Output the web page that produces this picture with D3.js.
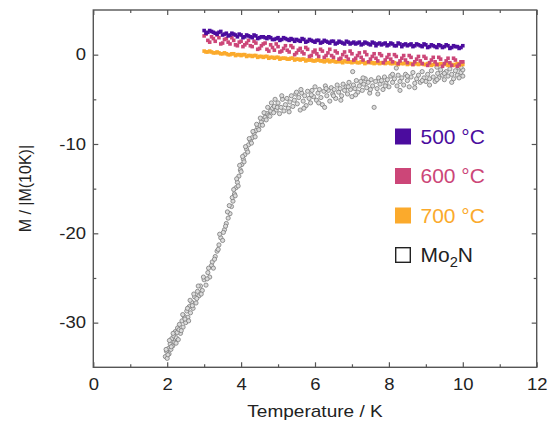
<!DOCTYPE html>
<meta charset="utf-8">
<style>

body {
  margin: 0;
  background: #fff;
}

svg text {
  font-family: "Liberation Sans", Arial, sans-serif;
  fill: #222;
}

.axis line {
  stroke: #555;
  stroke-width: 1.2px;
}

</style>
<body>
<script src="https://cdn.jsdelivr.net/npm/d3@7"></script>
<script>

// temperatures (K) of the first sweep of the annealed samples
var temps = [3.0, 3.1, 3.2, 3.3, 3.4, 3.5, 3.6, 3.7, 3.8, 3.9,
  4.0, 4.1, 4.2, 4.3, 4.4, 4.5, 4.6, 4.7, 4.8, 4.9,
  5.0, 5.1, 5.2, 5.3, 5.4, 5.5, 5.6, 5.7, 5.8, 5.9,
  6.0, 6.1, 6.2, 6.3, 6.4, 6.5, 6.6, 6.7, 6.8, 6.9,
  7.0, 7.1, 7.2, 7.3, 7.4, 7.5, 7.6, 7.7, 7.8, 7.9,
  8.0, 8.1, 8.2, 8.3, 8.4, 8.5, 8.6, 8.7, 8.8, 8.9,
  9.0, 9.1, 9.2, 9.3, 9.4, 9.5, 9.6, 9.7, 9.8, 9.9, 10.0];

// temperatures of the second sweep
var tempsB = [3.05, 3.15, 3.25, 3.35, 3.45, 3.55, 3.65, 3.75, 3.85, 3.95,
  4.05, 4.15, 4.25, 4.35, 4.45, 4.55, 4.65, 4.75, 4.85, 4.95,
  5.05, 5.15, 5.25, 5.35, 5.45, 5.55, 5.65, 5.75, 5.85, 5.95,
  6.05, 6.15, 6.25, 6.35, 6.45, 6.55, 6.65, 6.75, 6.85, 6.95,
  7.05, 7.15, 7.25, 7.35, 7.45, 7.55, 7.65, 7.75, 7.85, 7.95,
  8.05, 8.15, 8.25, 8.35, 8.45, 8.55, 8.65, 8.75, 8.85, 8.95,
  9.05, 9.15, 9.25, 9.35, 9.45, 9.55, 9.65, 9.75, 9.85, 9.95];

var m500 = [2.7, 2.5, 2.6, 2.4, 2.5, 2.2, 2.4, 2.2, 2.3, 2.0,
  2.2, 2.0, 2.1, 1.9, 2.1, 1.9, 2.0, 1.8, 1.9, 1.7,
  1.9, 1.7, 1.8, 1.6, 1.7, 1.7, 1.5, 1.7, 1.5, 1.6,
  1.4, 1.6, 1.4, 1.5, 1.3, 1.5, 1.3, 1.4, 1.2, 1.4,
  1.3, 1.2, 1.4, 1.2, 1.3, 1.1, 1.3, 1.2, 1.1, 1.3,
  1.1, 1.2, 1.0, 1.2, 1.1, 1.0, 1.2, 1.0, 1.1, 0.9,
  1.1, 0.9, 1.0, 0.8, 1.0, 0.9, 1.0, 0.8, 0.9, 0.7, 1.0];

var m500b = [2.4, 2.7, 2.5, 2.3, 2.6, 2.3, 2.1, 2.4, 2.2, 2.3,
  1.9, 2.2, 2.0, 2.2, 1.8, 2.0, 1.9, 2.0, 1.7, 1.8,
  1.6, 1.9, 1.7, 1.8, 1.5, 1.6, 1.8, 1.4, 1.7, 1.5,
  1.6, 1.3, 1.6, 1.4, 1.5, 1.2, 1.5, 1.3, 1.5, 1.2,
  1.4, 1.3, 1.1, 1.4, 1.2, 1.4, 1.0, 1.3, 1.2, 1.0,
  1.3, 1.0, 1.3, 0.9, 1.2, 1.1, 0.9, 1.2, 1.0, 1.2,
  0.8, 1.1, 0.9, 1.1, 0.8, 1.1, 0.7, 1.0, 0.9, 0.8];

var m600 = [2.1, 1.6, 2.0, 1.5, 1.9, 1.3, 1.8, 1.2, 1.6, 1.0,
  1.5, 1.1, 1.6, 0.9, 1.3, 0.7, 1.2, 0.6, 1.1, 0.5,
  0.9, 0.4, 1.0, 0.3, 0.8, 0.2, 0.7, 0.1, 0.6, -0.1,
  0.5, -0.2, 0.4, -0.1, 0.6, -0.3, 0.2, -0.4, 0.3, -0.5,
  0.1, -0.4, 0.2, -0.6, 0.0, -0.5, 0.1, -0.7, -0.1, -0.6,
  0.0, -0.8, -0.2, -0.7, -0.1, -0.9, -0.3, -0.8, -0.2, -1.0,
  -0.4, -0.9, -0.3, -1.1, -0.5, -1.0, -0.4, -1.2, -0.6, -1.1, -0.8];

var m600b = [2.3, 1.4, 1.8, 2.2, 1.2, 1.7, 1.4, 1.9, 1.1, 1.4,
  0.9, 1.3, 1.0, 1.5, 0.6, 1.0, 1.3, 0.4, 0.8, 1.2,
  0.3, 0.7, 0.5, 1.0, 0.0, 0.5, 0.3, 0.8, -0.2, 0.3,
  0.1, 0.6, -0.3, 0.2, -0.1, 0.4, -0.5, 0.0, -0.2, 0.4,
  -0.6, -0.1, -0.3, 0.3, -0.8, -0.2, -0.4, 0.1, -0.9, -0.3,
  -0.5, 0.0, -1.0, -0.4, -0.6, -0.1, -1.1, -0.5, -0.7, -0.2,
  -1.2, -0.6, -0.8, -0.3, -1.3, -0.7, -0.9, -0.4, -1.3, -0.8];

var m700 = [0.4, 0.3, 0.3, 0.2, 0.2, 0.1, 0.1, 0.0, 0.1, 0.0,
  -0.1, 0.0, -0.1, -0.2, -0.1, -0.2, -0.3, -0.2, -0.3, -0.4,
  -0.3, -0.4, -0.4, -0.5, -0.4, -0.5, -0.6, -0.5, -0.6, -0.6,
  -0.7, -0.6, -0.7, -0.7, -0.8, -0.7, -0.8, -0.8, -0.7, -0.8,
  -0.9, -0.8, -0.9, -0.8, -0.9, -0.9, -1.0, -0.9, -0.9, -1.0,
  -0.9, -1.0, -1.0, -0.9, -1.0, -1.1, -1.0, -1.0, -1.1, -1.0,
  -1.1, -1.0, -1.1, -1.1, -1.0, -1.1, -1.2, -1.1, -1.1, -1.2, -1.1];

var m700b = [0.3, 0.4, 0.2, 0.3, 0.1, 0.2, 0.0, 0.1, -0.1, 0.0,
  0.0, -0.2, -0.1, -0.1, -0.3, -0.2, -0.2, -0.4, -0.3, -0.3,
  -0.5, -0.4, -0.5, -0.4, -0.6, -0.5, -0.5, -0.7, -0.6, -0.7,
  -0.6, -0.7, -0.8, -0.6, -0.7, -0.8, -0.7, -0.9, -0.8, -0.8,
  -0.8, -0.9, -0.8, -1.0, -0.8, -0.9, -0.9, -1.0, -0.9, -0.9,
  -1.0, -0.9, -1.1, -1.0, -0.9, -1.0, -1.1, -1.0, -1.0, -1.1,
  -1.0, -1.2, -1.0, -1.1, -1.1, -1.0, -1.1, -1.2, -1.0, -1.1];

// Mo2N reference: [T, M/|M(10K)|]
var mo2n = [
  [1.95, -33.8], [1.98, -33.2], [2.0, -34.0], [2.03, -32.9], [2.05, -33.5], [2.08, -32.4],
  [2.1, -33.0], [2.12, -31.8], [2.15, -32.6], [2.18, -31.5], [2.2, -32.2], [2.22, -31.0],
  [2.25, -31.7], [2.28, -30.6], [2.3, -31.9], [2.33, -30.2], [2.36, -31.2], [2.4, -29.8],
  [2.43, -30.5], [2.46, -29.3], [2.5, -30.0], [2.53, -28.7], [2.56, -29.4], [2.6, -28.2],
  [2.63, -28.9], [2.66, -27.7], [2.7, -28.4], [2.74, -27.1], [2.78, -27.8], [2.82, -26.5],
  [2.86, -27.0], [2.9, -25.9], [2.95, -26.4], [3.0, -25.2], [3.05, -25.8], [3.1, -24.4],
  [3.15, -24.9], [3.2, -23.6], [3.25, -23.9], [3.3, -22.6], [3.35, -22.0], [3.4, -21.3],
  [3.45, -20.5], [3.5, -20.8], [3.55, -19.6], [3.6, -18.9], [3.65, -18.3], [3.7, -17.8],
  [3.74, -17.0], [3.78, -16.4], [3.82, -15.6], [3.86, -14.9], [3.9, -14.3], [3.94, -13.6],
  [3.98, -12.9], [4.02, -12.3], [4.06, -11.7], [4.1, -11.2], [4.15, -10.6], [4.2, -10.1],
  [4.25, -9.6], [4.3, -9.3], [4.35, -8.8], [4.4, -8.5], [4.45, -8.1], [4.5, -7.9],
  [4.55, -7.5], [4.6, -7.2], [4.65, -7.0], [4.7, -6.6], [4.75, -6.8], [4.8, -6.3],
  [4.85, -6.0], [4.9, -5.8], [4.95, -6.2],
  [1.97, -33.0], [2.02, -33.6], [2.06, -32.0], [2.11, -32.7], [2.16, -31.2], [2.24, -32.3],
  [2.27, -31.1], [2.32, -30.8], [2.38, -30.9], [2.42, -29.1], [2.48, -29.6], [2.55, -28.4],
  [2.58, -29.8], [2.62, -27.5], [2.68, -28.1], [2.72, -26.8], [2.8, -27.3], [2.84, -25.9],
  [2.92, -26.8], [2.98, -24.9], [3.08, -25.1], [3.12, -23.9], [3.22, -23.2], [3.28, -22.9],
  [3.38, -21.8], [3.42, -20.1], [3.52, -19.9], [3.58, -19.2], [3.63, -17.6], [3.68, -16.9],
  [3.76, -16.0], [3.8, -15.1], [3.84, -15.8], [3.88, -13.9], [3.92, -14.7], [3.96, -12.4],
  [4.0, -13.1], [4.04, -11.4], [4.08, -12.0], [4.12, -10.3], [4.18, -10.9], [4.22, -9.4],
  [4.28, -9.9], [4.32, -8.6], [4.38, -9.2], [4.42, -7.8], [4.48, -8.4], [4.52, -7.1],
  [4.58, -7.9], [4.62, -6.5], [4.68, -7.3], [4.72, -5.9], [4.78, -6.9], [4.82, -5.4],
  [4.88, -6.5], [4.92, -5.0], [4.98, -5.9],
  [5.0, -5.4], [5.04, -6.6], [5.08, -5.9], [5.12, -5.0], [5.16, -6.3], [5.2, -5.6],
  [5.24, -4.9], [5.28, -6.0], [5.32, -5.3], [5.36, -4.6], [5.4, -5.8], [5.44, -5.1],
  [5.48, -4.4], [5.52, -5.5], [5.56, -4.8], [5.6, -6.2], [5.64, -4.3], [5.68, -5.2],
  [5.72, -4.6], [5.76, -5.7], [5.8, -4.1], [5.84, -4.9], [5.88, -5.4], [5.92, -4.0],
  [5.96, -4.7], [6.0, -3.6], [6.04, -5.1], [6.08, -4.3], [6.12, -3.9], [6.16, -4.8],
  [6.2, -5.6], [6.24, -4.1], [6.28, -3.5], [6.32, -4.6], [6.36, -4.0], [6.4, -5.2],
  [6.44, -3.7], [6.48, -4.4], [6.52, -3.9], [6.56, -4.9], [6.6, -3.4], [6.64, -4.2],
  [6.68, -3.8], [6.72, -4.6], [6.76, -3.3], [6.8, -4.0], [6.84, -3.6], [6.88, -4.4],
  [6.92, -3.1], [6.96, -3.9], [7.0, -4.7], [7.02, -1.9], [7.04, -3.4], [7.08, -3.8],
  [7.12, -2.9], [7.16, -4.2], [7.2, -3.5], [7.24, -3.0], [7.28, -4.0], [7.32, -3.3],
  [7.36, -2.7], [7.4, -3.7], [7.44, -3.1], [7.48, -4.3], [7.52, -2.8], [7.56, -3.5],
  [7.6, -5.9], [7.64, -3.0], [7.68, -3.8], [7.72, -2.6], [7.76, -3.3], [7.8, -2.9],
  [7.84, -3.9], [7.88, -2.5], [7.92, -3.2], [7.96, -2.8], [8.0, -3.6], [8.05, -2.4],
  [8.1, -3.1], [8.15, -2.7], [8.2, -1.5], [8.22, -3.5], [8.25, -2.3], [8.3, -3.0],
  [8.35, -2.6], [8.4, -3.4], [8.45, -2.2], [8.5, -2.9], [8.55, -3.6], [8.6, -2.5],
  [8.65, -2.0], [8.7, -3.2], [8.75, -2.7], [8.8, -2.3], [8.85, -3.1], [8.9, -1.9],
  [8.95, -2.6], [9.0, -3.0], [9.05, -2.2], [9.1, -2.7], [9.15, -1.8], [9.2, -2.5],
  [9.25, -3.0], [9.3, -1.4], [9.32, -2.1], [9.35, -2.6], [9.4, -1.7], [9.45, -2.3],
  [9.5, -2.8], [9.55, -1.9], [9.6, -2.4], [9.65, -1.6], [9.7, -2.2], [9.75, -2.7],
  [9.8, -1.8], [9.85, -2.3], [9.9, -1.5], [9.95, -2.0], [10.0, -2.4], [10.0, -1.7],
  [5.1, -4.6], [5.3, -6.4], [5.5, -4.2], [5.7, -6.0], [5.9, -4.5], [6.1, -5.4],
  [6.3, -3.8], [6.5, -4.6], [6.7, -5.1], [6.9, -3.6], [7.1, -4.5], [7.3, -2.6],
  [7.5, -3.9], [7.7, -4.4], [7.9, -3.5], [8.1, -2.2], [8.3, -4.0], [8.5, -2.4],
  [8.7, -3.7], [8.9, -2.9], [9.1, -3.4], [9.3, -2.8], [9.5, -2.1], [9.7, -3.1],
  [9.9, -2.6], [9.95, -1.4], [6.26, -5.9], [5.62, -3.9]
];

var legendLabels = ["500 °C", "600 °C", "700 °C"];
var colors = ["#4b0c9e", "#cc4678", "#fbaa2c"];

var xMajor = [0, 2, 4, 6, 8, 10, 12];
var xMinor = [1, 3, 5, 7, 9, 11];
var yMajor = [0, -10, -20, -30];
var yMinor = [-5, -15, -25];

var width = 549;
var height = 431;
var margin = {top: 10, right: 12.3, bottom: 63.7, left: 93.3};
var stretch = "scale(1.12,1)";

var xScale = d3.scaleLinear()
    .domain([0, 12])
    .range([margin.left, width - margin.right]);

var yScale = d3.scaleLinear()
    .domain([-35, 5])
    .range([height - margin.bottom, margin.top]);

var svg = d3.select("body").append("svg")
    .attr("width", width)
    .attr("height", height);

var sweepA = [m500, m600, m700];
var sweepB = [m500b, m600b, m700b];

var series = legendLabels.map((name, i) => ({
  name: name,
  color: colors[i],
  values: temps.map((t, j) => ({t: t, m: sweepA[i][j]}))
    .concat(tempsB.map((t, j) => ({t: t, m: sweepB[i][j]})))
}));

var plot = svg.append("g");

plot.selectAll("circle.mo2n")
  .data(mo2n)
  .enter()
  .append("circle")
    .attr("class", "mo2n")
    .attr("cx", d => xScale(d[0]))
    .attr("cy", d => yScale(d[1]))
    .attr("r", 2.1)
    .attr("fill", "#dcdcdc")
    .attr("stroke", "#7a7a7a")
    .attr("stroke-width", 0.8);

// 700 first so 600 and 500 sit above it
series.slice().reverse().forEach(function(s) {
  plot.selectAll(null)
    .data(s.values)
    .enter()
    .append("rect")
      .attr("x", d => xScale(d.t) - 1.8)
      .attr("y", d => yScale(d.m) - 1.8)
      .attr("width", 3.6)
      .attr("height", 3.6)
      .attr("fill", s.color);
});

// axes, hyphen minus like the original
var fmt = d => String(d);

var xAxis = svg.append("g")
    .attr("class", "axis")
    .attr("transform", `translate(0, ${height - margin.bottom})`)
    .call(d3.axisBottom(xScale).tickValues(xMajor).tickFormat(fmt).tickSize(-5).tickPadding(10.5));

xAxis.selectAll("text")
    .attr("transform", stretch)
    .style("font-size", "16.5px");

svg.append("g")
    .attr("class", "axis")
    .attr("transform", `translate(0, ${height - margin.bottom})`)
    .call(d3.axisBottom(xScale).tickValues(xMinor).tickSize(-3).tickFormat(""));

svg.append("g")
    .attr("class", "axis")
    .attr("transform", `translate(0, ${margin.top})`)
    .call(d3.axisTop(xScale).tickValues(xMajor).tickSize(-5).tickFormat(""));

svg.append("g")
    .attr("class", "axis")
    .attr("transform", `translate(0, ${margin.top})`)
    .call(d3.axisTop(xScale).tickValues(xMinor).tickSize(-3).tickFormat(""));

var yAxis = svg.append("g")
    .attr("class", "axis")
    .attr("transform", `translate(${margin.left}, 0)`)
    .call(d3.axisLeft(yScale).tickValues(yMajor).tickFormat(fmt).tickSize(-5).tickPadding(6.5));

yAxis.selectAll("text")
    .attr("transform", stretch)
    .style("font-size", "16.5px");

svg.append("g")
    .attr("class", "axis")
    .attr("transform", `translate(${margin.left}, 0)`)
    .call(d3.axisLeft(yScale).tickValues(yMinor).tickSize(-3).tickFormat(""));

svg.append("g")
    .attr("class", "axis")
    .attr("transform", `translate(${width - margin.right}, 0)`)
    .call(d3.axisRight(yScale).tickValues(yMajor).tickSize(-5).tickFormat(""));

svg.append("g")
    .attr("class", "axis")
    .attr("transform", `translate(${width - margin.right}, 0)`)
    .call(d3.axisRight(yScale).tickValues(yMinor).tickSize(-3).tickFormat(""));

svg.selectAll(".axis .domain").remove();

svg.append("rect")
    .attr("x", margin.left)
    .attr("y", margin.top)
    .attr("width", width - margin.left - margin.right)
    .attr("height", height - margin.top - margin.bottom)
    .attr("fill", "none")
    .attr("stroke", "#555")
    .attr("stroke-width", 1.4);

// axis titles
var xMid = (margin.left + width - margin.right) / 2;
var yMid = (margin.top + height - margin.bottom) / 2;

svg.append("text")
    .attr("transform", `translate(${xMid}, 417) ${stretch}`)
    .attr("text-anchor", "middle")
    .style("font-size", "17px")
    .text("Temperature / K");

svg.append("text")
    .attr("transform", `translate(30.5, ${yMid}) rotate(-90)`)
    .attr("text-anchor", "middle")
    .style("font-size", "16px")
    .text("M / |M(10K)|");

// legend
var legendY = [136.5, 176, 215.5, 255];
var legend = svg.append("g");

series.forEach(function(s, i) {
  legend.append("rect")
      .attr("x", 395)
      .attr("y", legendY[i] - 8)
      .attr("width", 16)
      .attr("height", 16)
      .attr("fill", s.color);
  legend.append("text")
      .attr("transform", `translate(420.5, ${legendY[i] + 7}) scale(1.05,1)`)
      .style("font-size", "20px")
      .style("fill", s.color)
      .text(s.name);
});

legend.append("rect")
    .attr("x", 395.7)
    .attr("y", legendY[3] - 7.3)
    .attr("width", 14.6)
    .attr("height", 14.6)
    .attr("fill", "#fff")
    .attr("stroke", "#222")
    .attr("stroke-width", 1.4);

var moText = legend.append("text")
    .attr("transform", `translate(420.5, ${legendY[3] + 7}) scale(1.05,1)`)
    .style("font-size", "20px");
moText.append("tspan").text("Mo");
moText.append("tspan").attr("dy", 5).style("font-size", "14px").text("2");
moText.append("tspan").attr("dy", -5).text("N");

</script>
